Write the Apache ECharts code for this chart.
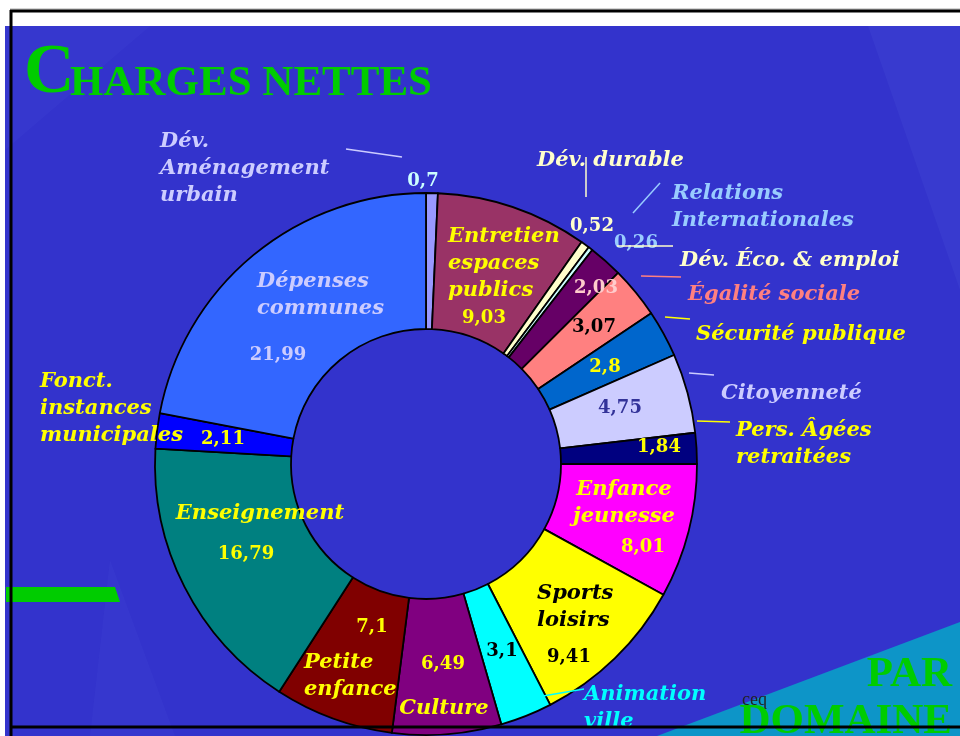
<!DOCTYPE html>
<html><head><meta charset="utf-8">
<script src="https://cdn.jsdelivr.net/npm/echarts@6/dist/echarts.min.js"></script>
<style>html,body{margin:0;padding:0;background:#fff}#c{width:960px;height:736px}</style>
</head><body><div id="c"></div>
<script>
// ---- data ----
const names = [
  'Dév.\nAménagement\nurbain',
  'Entretien\nespaces\npublics',
  'Dév. durable',
  'Relations\nInternationales',
  'Dév. Éco. & emploi',
  'Égalité sociale',
  'Sécurité publique',
  'Citoyenneté',
  'Pers. Âgées\nretraitées',
  'Enfance\njeunesse',
  'Sports\nloisirs',
  'Animation\nville',
  'Culture',
  'Petite\nenfance',
  'Enseignement',
  'Fonct.\ninstances\nmunicipales',
  'Dépenses\ncommunes'
];
const values = [0.7, 9.03, 0.52, 0.26, 2.03, 3.07, 2.8, 4.75, 1.84, 8.01, 9.41, 3.1, 6.49, 7.1, 16.79, 2.11, 21.99];

// ---- styles ----
const sliceColors = ['#9999ff','#993366','#ffffcc','#ccffff','#660066','#ff8080','#0066cc','#ccccff','#000080',
  '#ff00ff','#ffff00','#00ffff','#800080','#800000','#008080','#0000ff','#3366ff'];
const nameColors = ['#ccccff','#ffff00','#ffffcc','#99ccff','#ffffcc','#ff8080','#ffff00','#ccccff','#ffff00',
  '#ffff00','#000000','#00ffff','#ffff00','#ffff00','#ffff00','#ffff00','#ccccff'];
const valueColors = ['#ccffff','#ffff00','#ffffcc','#99ccff','#ffcccc','#000000','#ffff00','#333399','#ffff00',
  '#ffff00','#000000','#000000','#ffff00','#ffff00','#ffff00','#ffff00','#ccccff'];

// ---- label layout (text positions) ----
const namePos = [
  [160,169,'left'],[448,264,'left'],[537,161,'left'],[672,207,'left'],[680,261,'left'],[688,295,'left'],
  [696,335,'left'],[721,394,'left'],[736,444,'left'],[624,503,'center'],[537,607,'left'],[584,708,'left'],
  [444,709,'center'],[304,676,'left'],[260,514,'center'],[40,409,'left'],[257,295,'left']
];
const valuePos = [
  [423,181],[484,318],[592,226],[636,243],[596,288],[594,327],[605,367],[620,408],[659,447],
  [643,547],[569,657],[502,651],[443,664],[372,627],[246,554],[223,439],[278,355]
];
const leaders = {
  0: [[346,149],[402,157]],
  2: [[586,157],[586,197]],
  3: [[633,213],[660,183]],
  4: [[617,246],[673,246]],
  5: [[641,276],[681,277]],
  6: [[665,317],[690,319]],
  7: [[689,373],[714,375]],
  8: [[697,421],[730,422]],
  11: [[543,696],[584,689]]
};
const leaderColors = {0:'#ccccff',2:'#ffffcc',3:'#99ccff',4:'#ffffcc',5:'#ff8080',6:'#ffff00',7:'#ccccff',8:'#ffff00',11:'#00ffff'};

const fmt = v => String(v).replace('.', ',');
const CENTER = [426, 464], RADIUS = [135, 271];

const chart = echarts.init(document.getElementById('c'), null, {renderer: 'canvas'});
chart.setOption({
  animation: false,
  graphic: [
    {type:'rect', z:-10, shape:{x:5,y:26,width:955,height:710}, style:{fill:'#3333cc'}},
    {type:'polygon', z:-9, shape:{points:[[5,26],[150,26],[5,150]]}, style:{fill:'rgba(70,80,215,0.18)'}},
    {type:'polygon', z:-9, shape:{points:[[90,736],[110,560],[175,736]]}, style:{fill:'rgba(70,80,215,0.18)'}},
    {type:'polygon', z:-9, shape:{points:[[868,26],[960,26],[960,290]]}, style:{fill:'rgba(70,80,215,0.25)'}},
    {type:'polygon', z:-8, shape:{points:[[657,736],[960,622],[960,736]]}, style:{fill:'#0d95c8'}},
    {type:'polygon', z:-8, shape:{points:[[6,587],[115,587],[120,602],[6,602]]}, style:{fill:'#00cc00'}},
    {type:'text', z:-7, x:742, y:700, style:{text:'ceq', font:'18px "Liberation Serif"', fill:'#222', align:'left', verticalAlign:'middle'}},
    {type:'text', z:50, x:24, y:74, style:{text:'C', font:'bold 70px "Liberation Serif"', fill:'#00cc00', align:'left', verticalAlign:'middle'}},
    {type:'text', z:50, x:70, y:84, style:{text:'HARGES NETTES', font:'bold 43px "Liberation Serif"', fill:'#00cc00', align:'left', verticalAlign:'middle'}},
    {type:'text', z:50, x:952, y:675, style:{text:'PAR', font:'bold 43px "Liberation Serif"', fill:'#00cc00', align:'right', verticalAlign:'middle'}},
    {type:'text', z:50, x:952, y:722, style:{text:'DOMAINE', font:'bold 43px "Liberation Serif"', fill:'#00cc00', align:'right', verticalAlign:'middle'}},
    {type:'line', z:100, shape:{x1:10,y1:9,x2:960,y2:9}, style:{stroke:'#aaa', lineWidth:1}},
    {type:'line', z:100, shape:{x1:10,y1:11,x2:960,y2:11}, style:{stroke:'#000', lineWidth:3}},
    {type:'line', z:100, shape:{x1:11,y1:10,x2:11,y2:736}, style:{stroke:'#000', lineWidth:3}},
    {type:'line', z:100, shape:{x1:10,y1:727,x2:960,y2:727}, style:{stroke:'#000', lineWidth:3}}
  ],
  series: [
    {
      type: 'pie', center: CENTER, radius: RADIUS, startAngle: 90, clockwise: true,
      avoidLabelOverlap: false, silent: true, z: 2,
      itemStyle: {borderColor: '#000', borderWidth: 1.8},
      label: {show: true, position: 'outside', formatter: p => fmt(p.value),
        fontFamily: 'DejaVu Serif', fontWeight: 'bold', fontSize: 18},
      labelLine: {show: false},
      data: values.map((v, i) => ({value: v, name: names[i],
        itemStyle: {color: sliceColors[i]}, label: {color: valueColors[i]}})),
      labelLayout: p => ({x: valuePos[p.dataIndex][0], y: valuePos[p.dataIndex][1], align: 'center', verticalAlign: 'middle'})
    },
    {
      type: 'pie', center: CENTER, radius: RADIUS, startAngle: 90, clockwise: true,
      avoidLabelOverlap: false, silent: true, z: 3,
      itemStyle: {color: 'rgba(0,0,0,0)', borderWidth: 0},
      label: {show: true, position: 'outside', formatter: '{b}',
        fontFamily: 'DejaVu Serif', fontWeight: 'bold', fontStyle: 'italic', fontSize: 21, lineHeight: 27},
      labelLine: {show: false},
      data: values.map((v, i) => ({value: v, name: names[i],
        label: {color: nameColors[i]},
        labelLine: leaders[i] ? {show: true, smooth: false, lineStyle: {color: leaderColors[i], width: 1.5}} : {show: false}})),
      labelLayout: p => {
        const np = namePos[p.dataIndex];
        const o = {x: np[0], y: np[1], align: np[2], verticalAlign: 'middle'};
        if (leaders[p.dataIndex]) o.labelLinePoints = leaders[p.dataIndex];
        return o;
      }
    }
  ]
});
</script></body></html>
